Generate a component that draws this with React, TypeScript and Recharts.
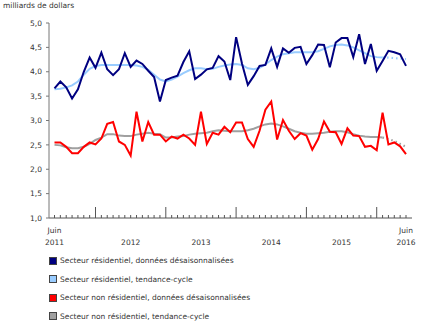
import { Line, LineChart, XAxis, YAxis } from "recharts";

// months from Juin 2011 to Juin 2016
const months: string[] = [];
for (let y = 2011, m = 6; y < 2016 || (y === 2016 && m <= 6); m++) {
  if (m > 12) {
    m = 1;
    y++;
  }
  if (y === 2016 && m > 6) break;
  months.push(`${y}-${String(m).padStart(2, "0")}`);
}

const resSA = [
  3.66, 3.8, 3.68, 3.45, 3.64, 4.0, 4.29, 4.08, 4.39, 4.05,
  3.93, 4.05, 4.38, 4.1, 4.23, 4.16, 4.02, 3.89, 3.39, 3.83,
  3.88, 3.92, 4.2, 4.42, 3.85, 3.94, 4.05, 4.08, 4.32, 4.21,
  3.83, 4.71, 4.17, 3.73, 3.91, 4.12, 4.14, 4.48, 4.1, 4.48,
  4.39, 4.49, 4.51, 4.16, 4.34, 4.56, 4.55, 4.09, 4.6, 4.69,
  4.69, 4.3, 4.77, 4.16, 4.57, 4.02, 4.22, 4.43, 4.4, 4.36,
  4.12,
];
const resTrend = [
  3.64, 3.65, 3.68, 3.72, 3.8, 3.94, 4.06, 4.12, 4.14, 4.14,
  4.14, 4.14, 4.14, 4.14, 4.13, 4.1, 4.04, 3.94, 3.84, 3.8,
  3.84, 3.9, 3.97, 4.03, 4.07, 4.07, 4.05, 4.06, 4.1, 4.13,
  4.15, 4.16, 4.14, 4.07, 4.05, 4.08, 4.15, 4.24, 4.31, 4.36,
  4.38, 4.4, 4.4, 4.4, 4.4, 4.42, 4.47, 4.52, 4.55, 4.56,
  4.54, 4.5, 4.44, 4.38, 4.32, 4.3, 4.29, 4.29, 4.28, 4.27,
  4.26,
];
const nonresSA = [
  2.55, 2.55, 2.46, 2.33, 2.33, 2.46, 2.55, 2.51, 2.63, 2.93,
  2.97, 2.57, 2.5, 2.28, 3.18, 2.57, 2.97, 2.71, 2.71, 2.57,
  2.67, 2.63, 2.71, 2.63, 2.5, 3.18, 2.52, 2.75, 2.71, 2.87,
  2.76, 2.96, 2.96, 2.62, 2.46, 2.79, 3.22, 3.39, 2.61, 3.01,
  2.79, 2.62, 2.74, 2.69, 2.4, 2.62, 2.98, 2.77, 2.76, 2.52,
  2.84, 2.69, 2.68, 2.46, 2.48, 2.39, 3.16, 2.51, 2.55, 2.47,
  2.31,
];
const nonresTrend = [
  2.5, 2.49, 2.45, 2.43, 2.43, 2.46, 2.52, 2.6, 2.65, 2.72,
  2.72, 2.69, 2.68, 2.68, 2.71, 2.73, 2.75, 2.73, 2.72, 2.65,
  2.65, 2.67, 2.68, 2.71, 2.73, 2.74, 2.75, 2.78, 2.8, 2.79,
  2.78, 2.78, 2.78, 2.8, 2.83, 2.88, 2.92, 2.94, 2.92, 2.88,
  2.83, 2.78, 2.75, 2.73, 2.73, 2.74, 2.75, 2.77, 2.78, 2.78,
  2.76, 2.72, 2.69, 2.67, 2.66, 2.66, 2.65, 2.62, 2.58, 2.52,
  2.46,
];
// trend values from this month on are drawn dotted
const provisionalFrom = 56;

const yTicks = [1, 1.5, 2, 2.5, 3, 3.5, 4, 4.5, 5];

const legendItems = [
  { label: "Secteur résidentiel, données désaisonnalisées", color: "#000080" },
  { label: "Secteur résidentiel, tendance-cycle", color: "#99ccff" },
  { label: "Secteur non résidentiel, données désaisonnalisées", color: "#ff0000" },
  { label: "Secteur non résidentiel, tendance-cycle", color: "#a0a0a0" },
];

const data = months.map((m, i) => ({
  i,
  month: m,
  resSA: resSA[i],
  resTrend: i <= provisionalFrom ? resTrend[i] : null,
  resTrendP: i >= provisionalFrom ? resTrend[i] : null,
  nonresSA: nonresSA[i],
  nonresTrend: i <= provisionalFrom ? nonresTrend[i] : null,
  nonresTrendP: i >= provisionalFrom ? nonresTrend[i] : null,
}));

const FONT = "'DejaVu Sans', Verdana, sans-serif";
const TEXT = "#333";

function MonthTick({ x, y, payload }: { x?: number; y?: number; payload?: { value: number } }) {
  if (x == null || y == null || !payload) return null;
  const idx = payload.value;
  const [yr, mo] = months[idx].split("-");
  const isEnd = idx === 0 || idx === months.length - 1;
  // year label in the middle of each full calendar year
  const midYear = mo === "07" && idx > 6 && idx < months.length - 6;
  return (
    <g>
      <line x1={x} x2={x} y1={y} y2={y - (mo === "01" ? 11 : 3)} stroke="#555" strokeWidth={1} />
      {isEnd && (
        <text x={x} y={y + 15} textAnchor="middle" fontSize={7.5} fill={TEXT} fontFamily={FONT}>
          Juin
        </text>
      )}
      {(isEnd || midYear) && (
        <text x={x} y={y + 27} textAnchor="middle" fontSize={7.5} fill={TEXT} fontFamily={FONT}>
          {yr}
        </text>
      )}
    </g>
  );
}

export default function App() {
  return (
    <div style={{ position: "absolute", left: 0, top: 0, width: 435, height: 327, background: "#fff", fontFamily: FONT }}>
      <div style={{ position: "absolute", left: 3, top: 0, fontSize: 7.5, lineHeight: "11px", color: TEXT }}>
        milliards de dollars
      </div>
      <LineChart width={435} height={250} data={data} margin={{ top: 23, right: 23, bottom: 0, left: 0 }}>
        <XAxis
          dataKey="i"
          type="number"
          domain={[0, months.length - 1]}
          ticks={months.map((_, i) => i)}
          interval={0}
          padding={{ left: 5.5, right: 6 }}
          tickSize={0}
          tickMargin={0}
          tickLine={false}
          tick={<MonthTick />}
          height={32}
          stroke="#555"
        />
        <XAxis xAxisId="top" orientation="top" type="number" domain={[0, 1]} tick={false} tickLine={false} height={0} stroke="#999" />
        <YAxis
          domain={[1, 5]}
          ticks={yTicks}
          interval={0}
          width={49}
          tickSize={3}
          tickMargin={4}
          stroke="#777"
          tick={{ fontSize: 7.5, fill: TEXT, fontFamily: FONT }}
          tickFormatter={(v: number) => v.toFixed(1).replace(".", ",")}
        />
        <YAxis yAxisId="right" orientation="right" domain={[0, 1]} tick={false} tickLine={false} width={0} stroke="#999" />
        <Line dataKey="resTrend" stroke="#99ccff" strokeWidth={2} dot={false} isAnimationActive={false} />
        <Line dataKey="resTrendP" stroke="#99ccff" strokeWidth={2.2} strokeDasharray="1.5 3" dot={false} isAnimationActive={false} />
        <Line dataKey="nonresTrend" stroke="#a0a0a0" strokeWidth={2} dot={false} isAnimationActive={false} />
        <Line dataKey="nonresTrendP" stroke="#a0a0a0" strokeWidth={2.2} strokeDasharray="1.5 3" dot={false} isAnimationActive={false} />
        <Line dataKey="resSA" stroke="#000080" strokeWidth={2} dot={false} isAnimationActive={false} />
        <Line dataKey="nonresSA" stroke="#ff0000" strokeWidth={2} dot={false} isAnimationActive={false} />
      </LineChart>
      {legendItems.map((it, k) => (
        <div
          key={it.label}
          style={{
            position: "absolute",
            left: 49,
            top: 256 + k * 18.5,
            display: "flex",
            alignItems: "center",
            fontSize: 7.5,
            lineHeight: "9px",
            color: TEXT,
          }}
        >
          <span
            style={{
              display: "inline-block",
              width: 6,
              height: 6,
              background: it.color,
              border: "1px solid #444",
              marginRight: 3,
            }}
          />
          {it.label}
        </div>
      ))}
    </div>
  );
}
